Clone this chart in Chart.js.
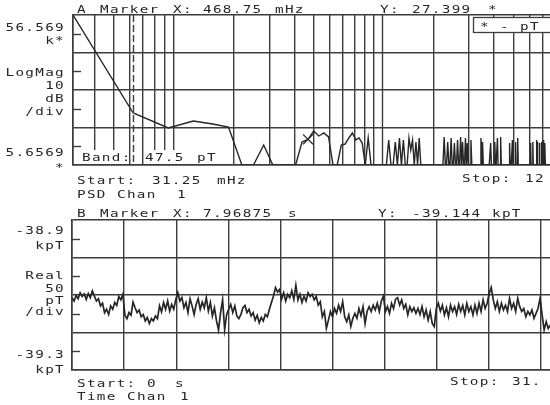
<!DOCTYPE html>
<html>
<head>
<meta charset="utf-8">
<script src="https://cdn.jsdelivr.net/npm/chart.js@4.4.1/dist/chart.umd.min.js"></script>
<style>
  html, body { margin: 0; padding: 0; background: #fff; }
  body { width: 550px; height: 405px; overflow: hidden; position: relative; }
  canvas { position: absolute; left: 0; }
  #psdChart { top: 0; }
  #timeChart { top: 200px; }
</style>
</head>
<body>
<canvas id="psdChart" width="620" height="200"></canvas>
<canvas id="timeChart" width="620" height="205"></canvas>
<script>
// ---- Trace A: PSD, log magnitude vs log frequency ----
const binWidth = 0.03125;          // Hz per bin (31.25 mHz)
const psdStart = 0.03125, psdStop = 12.5;
const psdFloor = 5.6569, psdTop = 56569;
const psdTicks = [5.6569, 56.569, 565.69, 5656.9, 56569];
const psdHalfDiv = [17.889, 178.89, 1788.9, 17889];
const gridFreqs = [0.03125, 0.04, 0.05, 0.06, 0.07, 0.08, 0.09, 0.1,
  0.2, 0.3, 0.4, 0.5, 0.6, 0.7, 0.8, 0.9, 1, 2, 3, 4, 5, 6, 7, 8, 9, 10, 12.5];
const bandStart = 0.0625, bandStop = 1.09375;
const markerA = { f: 0.46875, mag: 27.399 };

// bins that rise above the display floor, and their levels
const psdBins = [1, 2, 3, 4, 5, 6, 9, 14, 15, 16, 17, 18, 19, 22, 23, 24, 25, 26, 27, 28, 30,
  38, 41, 43, 45, 48, 49, 50, 52, 54, 72, 75, 78, 81, 84, 87, 89, 92, 94, 98,
  110, 112, 123, 129, 133, 138, 153, 158, 164, 168, 195, 200, 209, 211, 216, 222, 226, 230];
const psdLevels = [56569, 137.8, 54.9, 84.3, 70.2, 58.3, 19.3, 23.2, 27.399, 45.6, 33.6, 40.4, 31.6,
  19.3, 20.5, 29.7, 40.4, 26.3, 29.7, 21.8, 29.7,
  26.3, 23.2, 29.7, 26.3, 29.7, 14.2, 26.3, 23.2, 29.7, 31.6, 23.2, 29.7, 21.8, 26.3, 31.6, 23.2, 29.7, 21.8, 26.3,
  29.7, 23.2, 21.8, 23.2, 29.7, 31.6, 21.8, 26.3, 23.2, 29.7, 21.8, 23.2, 26.3, 23.2, 21.8, 23.2, 26.3, 21.8];
const psdLastBin = 250;

// ---- Trace B: time record ----
const timeStep = 0.125;            // s between plotted samples
const timeStart = 0, timeStop = 32;
const timeGrid = [0, 3.2, 6.4, 9.6, 12.8, 16, 19.2, 22.4, 25.6, 28.8, 32];
const timeTicks = [-39300, -39200, -39100, -39000, -38900];
const timeHalfDiv = [-38950, -39050, -39150, -39250];
const timeTrace = [
  -39107,-39116,-39101,-39110,-39094,-39104,-39097,-39112,-39096,-39107,
  -39089,-39103,-39116,-39110,-39129,-39122,-39147,-39138,-39152,-39129,
  -39138,-39120,-39128,-39104,-39113,-39098,-39154,-39163,-39147,-39154,
  -39119,-39134,-39147,-39140,-39158,-39152,-39169,-39160,-39176,-39163,
  -39169,-39156,-39163,-39129,-39145,-39120,-39138,-39116,-39143,-39125,
  -39138,-39112,-39094,-39116,-39107,-39134,-39120,-39147,-39110,-39129,
  -39152,-39125,-39110,-39138,-39119,-39134,-39107,-39143,-39120,-39156,
  -39134,-39169,-39193,-39147,-39113,-39192,-39152,-39138,-39125,-39147,
  -39129,-39156,-39163,-39152,-39134,-39128,-39147,-39138,-39156,-39147,
  -39167,-39154,-39174,-39160,-39169,-39152,-39158,-39138,-39120,-39103,
  -39080,-39092,-39085,-39110,-39094,-39116,-39098,-39107,-39089,-39112,
  -39074,-39113,-39098,-39120,-39103,-39116,-39094,-39104,
  -39098,-39113,-39104,-39127,-39118,-39158,-39144,-39189,-39167,-39144,
  -39158,-39136,-39149,-39127,-39144,-39118,-39158,-39171,-39153,-39184,
  -39162,-39149,-39162,-39136,-39155,-39131,-39176,-39144,-39131,-39144,
  -39127,-39140,-39122,-39144,-39116,-39103,-39144,-39131,-39149,-39122,
  -39136,-39111,-39107,-39127,-39113,-39136,-39125,-39153,-39131,-39144,
  -39134,-39149,-39136,-39152,-39131,-39158,-39140,-39167,-39144,-39176,
  -39184,-39136,-39122,-39143,-39127,-39153,-39134,-39158,-39127,-39144,
  -39131,-39152,-39125,-39144,-39128,-39153,-39122,-39144,-39131,-39153,
  -39127,-39149,-39122,-39144,-39113,-39136,-39122,-39096,-39080,-39113,
  -39136,-39118,-39144,-39122,-39140,-39127,-39144,-39109,-39136,-39122,
  -39144,-39109,-39131,-39144,-39136,-39158,-39144,-39153,-39140,-39162,
  -39149,-39136,-39109,-39153,-39193,-39171,-39189,-39180
];

const INK = '#262626';
const GRID = '#3d3d3d';

// plotter-ish text: monospace stretched sideways
function plotText(ctx, str, x, y, align) {
  ctx.save();
  ctx.font = '11px "DejaVu Sans Mono"';
  ctx.letterSpacing = '1px';
  ctx.fillStyle = INK;
  ctx.textBaseline = 'alphabetic';
  ctx.textAlign = align || 'left';
  ctx.translate(x, y);
  ctx.scale(1.3, 1);
  ctx.fillText(str, 0, 0);
  ctx.restore();
}

function seg(ctx, x1, y1, x2, y2) {
  ctx.beginPath();
  ctx.moveTo(x1, y1);
  ctx.lineTo(x2, y2);
  ctx.stroke();
}

function halfDivTicks(ctx, chart, values) {
  const a = chart.chartArea, y = chart.scales.y;
  ctx.save();
  ctx.strokeStyle = GRID;
  ctx.lineWidth = 1.4;
  values.forEach(v => {
    const py = Math.round(y.getPixelForValue(v)) + 0.5;
    seg(ctx, a.left, py, a.left + 8, py);
  });
  ctx.restore();
}

// build PSD points (bins not listed sit on the floor)
const psdPoints = [];
for (let n = 1; n <= psdLastBin; n++) {
  const k = psdBins.indexOf(n);
  psdPoints.push({ x: n * binWidth, y: k >= 0 ? psdLevels[k] : psdFloor });
}
const timePoints = timeTrace.map((v, i) => ({ x: timeStart + i * timeStep, y: v }));

const psdDecor = {
  id: 'psdDecor',
  beforeDatasetsDraw(chart) {
    const { ctx, chartArea: a, scales: { x } } = chart;
    ctx.save();
    ctx.strokeStyle = GRID;
    ctx.lineWidth = 1.4;
    let px = Math.round(x.getPixelForValue(bandStart)) + 0.5;
    ctx.setLineDash([7, 3]);
    seg(ctx, px, a.top, px, a.bottom);
    ctx.setLineDash([]);
    px = Math.round(x.getPixelForValue(bandStop)) + 0.5;
    seg(ctx, px, a.top, px, a.bottom);
    ctx.restore();
    halfDivTicks(ctx, chart, psdHalfDiv);
  },
  afterDraw(chart) {
    const ctx = chart.ctx;
    // header
    [['A', 77], ['Marker', 100], ['X:', 173], ['468.75', 203], ['mHz', 275],
     ['Y:', 380], ['27.399', 412], ['*', 488]].forEach(t => plotText(ctx, t[0], t[1], 13));
    // left scale labels
    [['56.569', 31], ['k*', 44], ['LogMag', 76], ['10', 89], ['dB', 102], ['/div', 115],
     ['5.6569', 156], ['*', 171]].forEach(t => plotText(ctx, t[0], 65, t[1], 'right'));
    // units box
    ctx.save();
    ctx.fillStyle = '#fff';
    ctx.fillRect(473, 17, 120, 15);
    ctx.strokeStyle = GRID;
    ctx.lineWidth = 1.3;
    ctx.strokeRect(473.5, 17.5, 120, 15);
    // band readout backgrounds
    ctx.fillRect(79, 150, 50, 14);
    ctx.fillRect(144, 150, 72, 14);
    ctx.restore();
    [['*', 480], ['-', 500], ['pT', 520]].forEach(t => plotText(ctx, t[0], t[1], 30));
    [['Band:', 82], ['47.5', 145], ['pT', 197]].forEach(t => plotText(ctx, t[0], t[1], 161));
    // footer
    [['Start:', 77], ['31.25', 152], ['mHz', 217]].forEach(t => plotText(ctx, t[0], t[1], 184));
    [['PSD', 77], ['Chan', 117], ['1', 177]].forEach(t => plotText(ctx, t[0], t[1], 198));
    [['Stop:', 462], ['12', 525]].forEach(t => plotText(ctx, t[0], t[1], 182));
  }
};

const timeDecor = {
  id: 'timeDecor',
  beforeDatasetsDraw(chart) {
    halfDivTicks(chart.ctx, chart, timeHalfDiv);
  },
  afterDraw(chart) {
    const ctx = chart.ctx;
    [['B', 77], ['Marker', 100], ['X:', 173], ['7.96875', 203], ['s', 288],
     ['Y:', 378], ['-39.144', 412], ['kpT', 492]].forEach(t => plotText(ctx, t[0], t[1], 17));
    [['-38.9', 34], ['kpT', 49], ['Real', 79], ['50', 92], ['pT', 104], ['/div', 115],
     ['-39.3', 158], ['kpT', 173]].forEach(t => plotText(ctx, t[0], 65, t[1], 'right'));
    [['Start:', 77], ['0', 147], ['s', 175]].forEach(t => plotText(ctx, t[0], t[1], 187));
    [['Time', 77], ['Chan', 127], ['1', 180]].forEach(t => plotText(ctx, t[0], t[1], 200));
    [['Stop:', 450], ['31.', 512]].forEach(t => plotText(ctx, t[0], t[1], 185));
  }
};

function axisOpts(extra) {
  return Object.assign({
    ticks: { display: false },
    grid: { color: GRID, lineWidth: 1.4, drawTicks: false },
    border: { color: GRID, width: 1.6 }
  }, extra);
}

new Chart(document.getElementById('psdChart'), {
  type: 'line',
  data: {
    datasets: [
      { data: psdPoints, borderColor: INK, borderWidth: 1.4, pointRadius: 0, tension: 0 },
      { data: [{ x: markerA.f, y: markerA.mag }], showLine: false, pointStyle: 'crossRot',
        pointRadius: 7, borderColor: INK, borderWidth: 1.2, backgroundColor: 'transparent' }
    ]
  },
  options: {
    responsive: false, animation: false, devicePixelRatio: 1,
    layout: { padding: { left: 73, top: 15, right: 27, bottom: 35 } },
    plugins: { legend: { display: false }, tooltip: { enabled: false } },
    scales: {
      x: axisOpts({ type: 'logarithmic', min: psdStart, max: psdStop,
        afterBuildTicks: s => { s.ticks = gridFreqs.map(v => ({ value: v })); } }),
      y: axisOpts({ type: 'logarithmic', min: psdFloor, max: psdTop,
        afterBuildTicks: s => { s.ticks = psdTicks.map(v => ({ value: v })); } })
    }
  },
  plugins: [psdDecor]
});

new Chart(document.getElementById('timeChart'), {
  type: 'line',
  data: {
    datasets: [
      { data: timePoints, borderColor: INK, borderWidth: 1.7, pointRadius: 0, tension: 0 }
    ]
  },
  options: {
    responsive: false, animation: false, devicePixelRatio: 1,
    layout: { padding: { left: 72, top: 20, right: 27, bottom: 35 } },
    plugins: { legend: { display: false }, tooltip: { enabled: false } },
    scales: {
      x: axisOpts({ type: 'linear', min: timeStart, max: timeStop,
        afterBuildTicks: s => { s.ticks = timeGrid.map(v => ({ value: v })); } }),
      y: axisOpts({ type: 'linear', min: timeTicks[0], max: timeTicks[timeTicks.length - 1],
        afterBuildTicks: s => { s.ticks = timeTicks.map(v => ({ value: v })); } })
    }
  },
  plugins: [timeDecor]
});
</script>
</body>
</html>
